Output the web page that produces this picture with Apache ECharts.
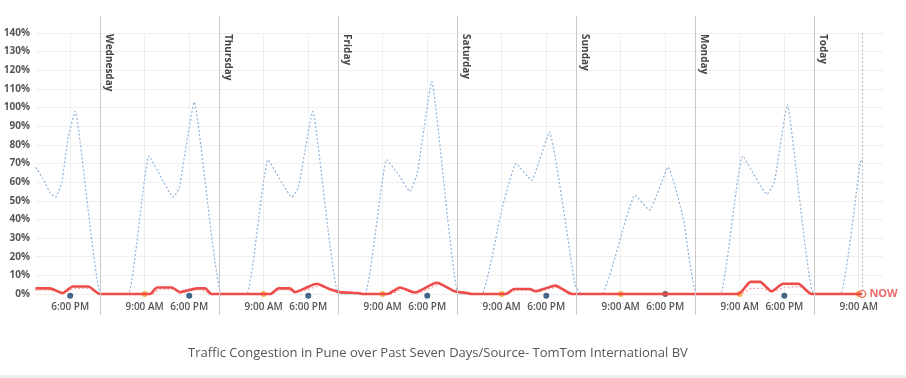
<!DOCTYPE html>
<html>
<head>
<meta charset="utf-8">
<script src="https://cdn.jsdelivr.net/npm/echarts@6/dist/echarts.min.js"></script>
<style>
html,body{margin:0;padding:0;background:#fff;}
#chart{width:906px;height:378px;}
</style>
</head>
<body>
<div id="chart"></div>
<script>
// hours counted from Tuesday 00:00
const dayLineHours = [24, 48, 72, 96, 120, 144, 168];
const dayNames = ['Wednesday', 'Thursday', 'Friday', 'Saturday', 'Sunday', 'Monday', 'Today'];
const tickHours = [18, 33, 42, 57, 66, 81, 90, 105, 114, 129, 138, 153, 162, 177];
const yTicks = [0, 10, 20, 30, 40, 50, 60, 70, 80, 90, 100, 110, 120, 130, 140];
const nowHour = 177.7;

// typical congestion (blue dotted)
const typicalSeries = [
  [11.0,68],[12.5,62],[14,54],[15.1,52],[16.3,60],[17.6,84],[19,98],[24.2,0],
  [29.7,0],[33.9,74],[38.8,52],[40,57],[43,103],[48.5,0],
  [53.6,0],[57.9,72],[62.7,52],[64,57],[66.9,98],[72.1,0],
  [77.4,0],[81.8,72],[84,65],[86.5,55],[88,65],[90.9,114],[96.3,0],
  [101,0],[105,45],[107.9,70],[111,61],[114.6,87],[119.8,5],[121.2,0],
  [125.2,0],[131.9,53],[134.8,45],[138.6,68],[141.6,41],[144.3,0],
  [149.1,0],[153.6,74],[158.5,53.5],[160,60],[162.6,101.5],[167.9,0],
  [173.3,0],[177.3,70.5],[177.7,72]
];

// live congestion (red solid)
const liveSeries = [
  [11.0,3],[13.9,3],[16.5,0.5],[18.5,4],[21.6,4],[24,0],
  [34.1,0],[35.5,3.5],[38.5,3.5],[40.1,1],[41.8,2],[43.8,3],[45.2,3],[46.5,0],
  [58.3,0],[60,3],[62.3,3],[63.3,1],[65.3,3],[67.7,5.5],[70,3],[72.4,1],[76,0.5],[77,0],
  [82,0],[84.5,3.5],[87.5,0.8],[91.9,6],[95.5,1.5],[98,0.5],[99,0],
  [105.8,0],[107.5,2.7],[110.7,2.7],[111.8,1.5],[113.8,3],[115.8,4.5],[119.2,0],
  [152.7,0],[155.2,6.5],[157.1,6.5],[159.4,1.5],[161.8,5.5],[164.8,5.5],[167.5,0],
  [177.7,0]
];

// faint pink dotted companion line
const liveTypical = [
  [11.0,2],[14,2],[16.5,0.5],[19,3],[22,3],[24,0],
  [34.5,0],[36,2.5],[38.5,2.5],[40,1],[44,2.5],[46.5,0],
  [58.5,0],[60.5,2.5],[62.5,2],[63.5,1],[66,2.5],[68.5,4.5],[71,2],[74,0.5],[77,0],
  [82.5,0],[85,2.5],[88,0.5],[92.5,5],[96,1],[99,0],
  [106,0],[108,2],[111,2],[112,1],[114,2.5],[116.5,3.5],[119.5,0],
  [153,0],[155.5,3],[157.5,3],[159.5,1],[162,3.5],[165,4],[167.5,0],[177.7,0]
];

const morningDots = [[33,0],[57,0],[81,0],[105,0],[129,0],[153,0],[177,0]];
const eveningDots = [[18,-1],[42,-1],[66,-1],[90,-1],[114,-1],[162,-1]];
const sundayEveningDot = [[138,0]];
const nowPoint = [[nowHour,0]];

const caption = 'Traffic Congestion in Pune over Past Seven Days/Source- TomTom International BV';

const X_MIN = 10.9, X_MAX = 181.9;
const FONT = '"Open Sans", "Noto Sans", sans-serif';

const chart = echarts.init(document.getElementById('chart'), null, {renderer: 'canvas'});

const dayLineData = dayLineHours.map((h, i) => [
  {coord: [h, 1], name: dayNames[i]},
  {coord: [h, 0]}
]);

chart.setOption({
  animation: false,
  backgroundColor: '#fff',
  grid: [
    {left: 35, right: 23, top: 33, bottom: 84},
    {left: 35, right: 23, top: 16, bottom: 63}
  ],
  xAxis: [
    {
      type: 'value', gridIndex: 0, min: X_MIN, max: X_MAX,
      axisLine: {show: false},
      axisTick: {show: false, customValues: tickHours},
      splitLine: {show: true, lineStyle: {color: '#efefef', width: 1}},
      axisLabel: {
        customValues: tickHours,
        margin: 8,
        color: '#555', fontSize: 10, fontWeight: 600, fontFamily: FONT,
        formatter: v => (Math.round(v) % 24 === 9 ? '9:00 AM' : '6:00 PM')
      }
    },
    {
      type: 'value', gridIndex: 1, min: X_MIN, max: X_MAX, show: false
    }
  ],
  yAxis: [
    {
      type: 'value', gridIndex: 0, min: yTicks[0], max: yTicks[yTicks.length - 1], interval: 10,
      axisLine: {show: false}, axisTick: {show: false},
      splitLine: {lineStyle: {color: '#efefef', width: 1}},
      axisLabel: {
        margin: 5, color: '#555', fontSize: 10, fontWeight: 700, fontFamily: FONT,
        formatter: '{value}%'
      }
    },
    {type: 'value', gridIndex: 1, min: 0, max: 1, show: false}
  ],
  graphic: [
    {
      type: 'text', left: 188, top: 347,
      style: {text: caption, fill: '#555', font: '13px ' + FONT}
    },
    {
      type: 'rect', left: 0, top: 375, shape: {width: 906, height: 3},
      style: {fill: '#eeeeee'}
    }
  ],
  series: [
    {
      type: 'line', xAxisIndex: 1, yAxisIndex: 1, data: [],
      silent: true,
      markLine: {
        silent: true, symbol: ['none', 'none'],
        lineStyle: {color: '#c9c9c9', width: 1, type: 'solid'},
        label: {
          show: true, position: 'insideStartTop', formatter: '{b}',
          distance: [18, 4],
          color: '#444', fontSize: 10, fontWeight: 700, fontFamily: FONT
        },
        emphasis: {disabled: true},
        data: dayLineData
      }
    },
    {
      type: 'line', data: typicalSeries, symbol: 'none', clip: false,
      smooth: 0.12,
      lineStyle: {color: '#8eb3d8', width: 1.2, type: [2, 2]},
      markLine: {
        silent: true, symbol: ['none', 'none'],
        lineStyle: {color: '#bbbbbb', width: 1, type: [2, 2]},
        label: {show: false},
        data: [[{coord: [nowHour, 140]}, {coord: [nowHour, 0]}]]
      }
    },
    {
      type: 'line', data: liveTypical, symbol: 'none', clip: false, smooth: 0.2,
      lineStyle: {color: '#f5a3a3', width: 1.2, type: [2, 2]}
    },
    {
      type: 'line', data: liveSeries, symbol: 'none', clip: false, smooth: 0.2,
      lineStyle: {color: '#ee4b4b', width: 2.6}
    },
    {
      type: 'scatter', data: eveningDots, symbolSize: 6, clip: false,
      itemStyle: {color: '#163f6e'}
    },
    {
      type: 'scatter', data: sundayEveningDot, symbolSize: 6, clip: false,
      itemStyle: {color: '#6a2f3c'}
    },
    {
      type: 'scatter', data: morningDots, symbolSize: 6, clip: false,
      itemStyle: {color: '#f5a623'}
    },
    {
      type: 'scatter', data: nowPoint, symbol: 'circle', symbolSize: 7, clip: false,
      itemStyle: {color: '#ffffff', borderColor: '#ee5a3a', borderWidth: 1.5},
      label: {
        show: true, position: 'right', distance: 3, formatter: 'NOW',
        color: '#e8474a', fontSize: 11, fontWeight: 700, fontFamily: FONT
      }
    }
  ]
});
</script>
</body>
</html>
